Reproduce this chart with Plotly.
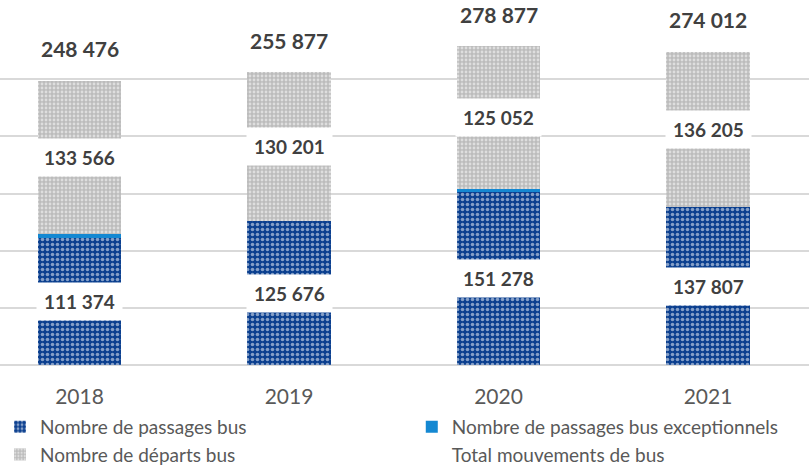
import plotly.graph_objects as go

years = ["2018", "2019", "2020", "2021"]
passages = [111374, 125676, 151278, 137807]
exceptionnels = [3536, 0, 2547, 0]
departs = [133566, 130201, 125052, 136205]
totals = [248476, 255877, 278877, 274012]

def fmt(v):
    return f"{v:,}".replace(",", " ")

FONT = "Lato"
DARK_BLUE = "#0B3F8F"
LIGHT_BLUE = "#1488D2"
GREY = "#BCBCBC"

fig = go.Figure()
fig.add_trace(go.Bar(
    x=years, y=passages, name="Nombre de passages bus", legend="legend",
    marker=dict(color=DARK_BLUE, line=dict(width=0),
                pattern=dict(shape=".", fgcolor="white", bgcolor=DARK_BLUE, size=5, solidity=0.4)),
    width=0.40,
))
fig.add_trace(go.Bar(
    x=years, y=exceptionnels, name="Nombre de passages bus exceptionnels", legend="legend2",
    marker=dict(color=LIGHT_BLUE, line=dict(width=0)), width=0.40,
))
fig.add_trace(go.Bar(
    x=years, y=departs, name="Nombre de départs bus", legend="legend",
    marker=dict(color=GREY, line=dict(width=0),
                pattern=dict(shape=".", fgcolor="white", bgcolor=GREY, size=4, solidity=0.4)),
    width=0.40,
))
fig.add_trace(go.Scatter(
    x=years, y=totals, name="Total mouvements de bus", mode="lines", legend="legend2",
    line=dict(color="rgba(0,0,0,0)", width=0), hoverinfo="skip",
))

label_font = dict(family=FONT, size=19, color="#404040")
total_font = dict(family=FONT, size=21, color="#404040")
ann = []
for i, yr in enumerate(years):
    ann.append(dict(x=i, y=passages[i] / 2, text=f"<b>{fmt(passages[i])}</b>",
                    showarrow=False, font=label_font, bgcolor="white", borderpad=7))
    base = passages[i] + exceptionnels[i]
    ann.append(dict(x=i, y=base + departs[i] / 2, text=f"<b>{fmt(departs[i])}</b>",
                    showarrow=False, font=label_font, bgcolor="white", borderpad=7))
    ann.append(dict(x=i, y=totals[i], yshift=32, text=f"<b>{fmt(totals[i])}</b>",
                    showarrow=False, font=total_font, bgcolor="white", borderpad=5))

legend_font = dict(family=FONT, size=19, color="#595959")
fig.update_layout(
    barmode="stack",
    width=809, height=469,
    margin=dict(l=0, r=0, t=22, b=103.5, autoexpand=False),
    paper_bgcolor="white", plot_bgcolor="white",
    font=dict(family=FONT, color="#595959"),
    annotations=ann,
    showlegend=True,
    legend=dict(orientation="v", x=0, xanchor="left", y=-0.125, yanchor="top",
                font=legend_font, traceorder="normal", tracegroupgap=0,
                bgcolor="rgba(0,0,0,0)"),
    legend2=dict(orientation="v", x=0.509, xanchor="left", y=-0.125, yanchor="top",
                 font=legend_font, traceorder="normal", tracegroupgap=0,
                 bgcolor="rgba(0,0,0,0)"),
    xaxis=dict(type="category", range=[-0.3795, 3.482], showgrid=False,
               showline=False, zeroline=False, ticks="",
               tickfont=dict(family=FONT, size=21, color="#595959"),
               ticklabelstandoff=17),
    yaxis=dict(range=[0, 300000], dtick=50000, showgrid=True, gridcolor="#D9D9D9",
               gridwidth=1.5, zeroline=True, zerolinecolor="#D9D9D9", zerolinewidth=1.5,
               showticklabels=False, ticks=""),
)

fig.write_html("out.html", config={"displayModeBar": False},
               post_script="document.body.style.margin='0px';")
